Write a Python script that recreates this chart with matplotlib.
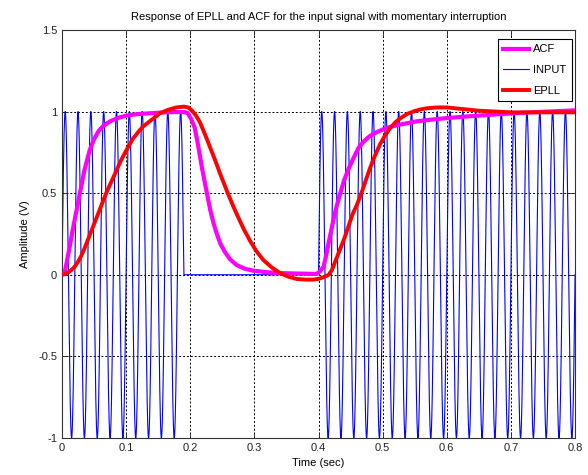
import numpy as np
import matplotlib.pyplot as plt

plt.rcParams['font.family'] = ['Liberation Sans Narrow', 'Liberation Sans', 'DejaVu Sans']

# input signal: 50 Hz unit sine, interrupted between 0.19 s and 0.40 s
f_input = 50.0
amp_input = 1.0
t_cut = 0.19
t_back = 0.40
t_end = 0.8

# ACF output
t_acf = [0, 0.004, 0.008, 0.012, 0.016, 0.02, 0.024, 0.028, 0.035, 0.043,
         0.05, 0.057, 0.064, 0.075, 0.087, 0.1, 0.12, 0.14, 0.16, 0.18,
         0.19, 0.196, 0.202, 0.207, 0.211, 0.215, 0.219, 0.223, 0.227, 0.231,
         0.236, 0.241, 0.247, 0.254, 0.262, 0.272, 0.285, 0.298, 0.32, 0.34,
         0.37, 0.397, 0.402, 0.408, 0.412, 0.416, 0.42, 0.424, 0.429, 0.434,
         0.44, 0.447, 0.454, 0.462, 0.47, 0.48, 0.49, 0.5, 0.513, 0.527,
         0.54, 0.553, 0.575, 0.6, 0.625, 0.65, 0.675, 0.7, 0.73, 0.76, 0.8]
y_acf = [0, 0.01, 0.09, 0.17, 0.26, 0.34, 0.42, 0.5, 0.64, 0.76,
         0.83, 0.88, 0.91, 0.94, 0.96, 0.975, 0.985, 0.99, 0.995, 0.997,
         0.997, 0.99, 0.95, 0.9, 0.82, 0.73, 0.64, 0.56, 0.48, 0.40,
         0.32, 0.255, 0.19, 0.14, 0.095, 0.06, 0.037, 0.025, 0.015, 0.01,
         0.007, 0.005, 0.02, 0.05, 0.12, 0.2, 0.275, 0.35, 0.43, 0.5,
         0.58, 0.65, 0.71, 0.775, 0.815, 0.85, 0.872, 0.89, 0.907, 0.92,
         0.93, 0.94, 0.95, 0.96, 0.968, 0.975, 0.982, 0.988, 0.995, 1.0, 1.007]

# EPLL output
t_epll = [0, 0.005, 0.01, 0.015, 0.02, 0.025, 0.03, 0.035, 0.04, 0.046,
          0.051, 0.057, 0.064, 0.07, 0.077, 0.085, 0.092, 0.1, 0.11, 0.12,
          0.127, 0.14, 0.153, 0.165, 0.178, 0.19, 0.197, 0.203, 0.209, 0.215,
          0.223, 0.231, 0.239, 0.246, 0.253, 0.259, 0.267, 0.275, 0.284, 0.293,
          0.303, 0.314, 0.327, 0.34, 0.353, 0.366, 0.38, 0.392, 0.4, 0.408,
          0.416, 0.421, 0.426, 0.433, 0.44, 0.447, 0.453, 0.46, 0.466, 0.473,
          0.48, 0.488, 0.496, 0.504, 0.512, 0.52, 0.528, 0.538, 0.548, 0.558,
          0.569, 0.585, 0.6, 0.625, 0.65, 0.7, 0.75, 0.8]
y_epll = [0, 0.005, 0.015, 0.03, 0.05, 0.08, 0.115, 0.16, 0.21, 0.27,
          0.32, 0.38, 0.45, 0.51, 0.57, 0.64, 0.7, 0.76, 0.83, 0.88,
          0.91, 0.95, 0.99, 1.01, 1.025, 1.03, 1.025, 1.005, 0.975, 0.935,
          0.86, 0.78, 0.7, 0.625, 0.555, 0.495, 0.42, 0.35, 0.275, 0.21,
          0.145, 0.09, 0.045, 0.01, -0.012, -0.026, -0.03, -0.03, -0.025, -0.015,
          0.0, 0.03, 0.08, 0.15, 0.22, 0.3, 0.37, 0.43, 0.49, 0.57,
          0.65, 0.73, 0.8, 0.855, 0.9, 0.935, 0.96, 0.985, 1.0, 1.012,
          1.02, 1.025, 1.025, 1.015, 1.005, 0.995, 0.995, 0.995]

x_ticks = [0, 0.1, 0.2, 0.3, 0.4, 0.5, 0.6, 0.7, 0.8]
x_ticklabels = ['0', '0.1', '0.2', '0.3', '0.4', '0.5', '0.6', '0.7', '0.8']
y_ticks = [-1, -0.5, 0, 0.5, 1, 1.5]
y_ticklabels = ['-1', '-0.5', '0', '0.5', '1', '1.5']

t_in = np.linspace(0, t_end, 80001)
v_in = amp_input * np.sin(2 * np.pi * f_input * t_in)
v_in[(t_in > t_cut) & (t_in < t_back)] = 0.0

fig = plt.figure(figsize=(5.88, 4.75), dpi=100)
ax = fig.add_axes([0.1054, 0.078, 0.8726, 0.859])

ax.plot(t_acf, y_acf, color='#ff00ff', lw=3.0, label='ACF', zorder=3)
ax.plot(t_in, v_in, color='#0000ff', lw=0.8, label='INPUT', zorder=2)
ax.plot(t_epll, y_epll, color='#ff0000', lw=2.8, label='EPLL', zorder=4)

ax.set_xlim(0, 0.8)
ax.set_ylim(-1, 1.5)
ax.set_xticks(x_ticks)
ax.set_xticklabels(x_ticklabels)
ax.set_yticks(y_ticks)
ax.set_yticklabels(y_ticklabels)
ax.tick_params(direction='in', length=4, width=0.6, top=True, right=True,
               labelsize=8, colors='#222222')
ax.grid(True, color='black', linestyle=(0, (2, 2)), lw=0.7)
for s in ax.spines.values():
    s.set_linewidth(0.8)
    s.set_color('#333333')

ax.set_title('Response of EPLL and ACF for the input signal with momentary interruption',
             fontsize=8, pad=7)
ax.set_xlabel('Time (sec)', fontsize=8, labelpad=4)
ax.set_ylabel('Amplitude (V)', fontsize=8, labelpad=6)

leg = ax.legend(loc='upper right', bbox_to_anchor=(0.994, 0.978), fontsize=8,
                fancybox=False, framealpha=1, edgecolor='black',
                handlelength=2.3, borderaxespad=0, borderpad=0.5,
                labelspacing=0.95, handletextpad=0.4)
leg.get_frame().set_linewidth(0.8)
for h in leg.get_lines():
    if h.get_label() == 'INPUT':
        h.set_color('#0000ff')

fig.savefig('out.png', dpi=100)
